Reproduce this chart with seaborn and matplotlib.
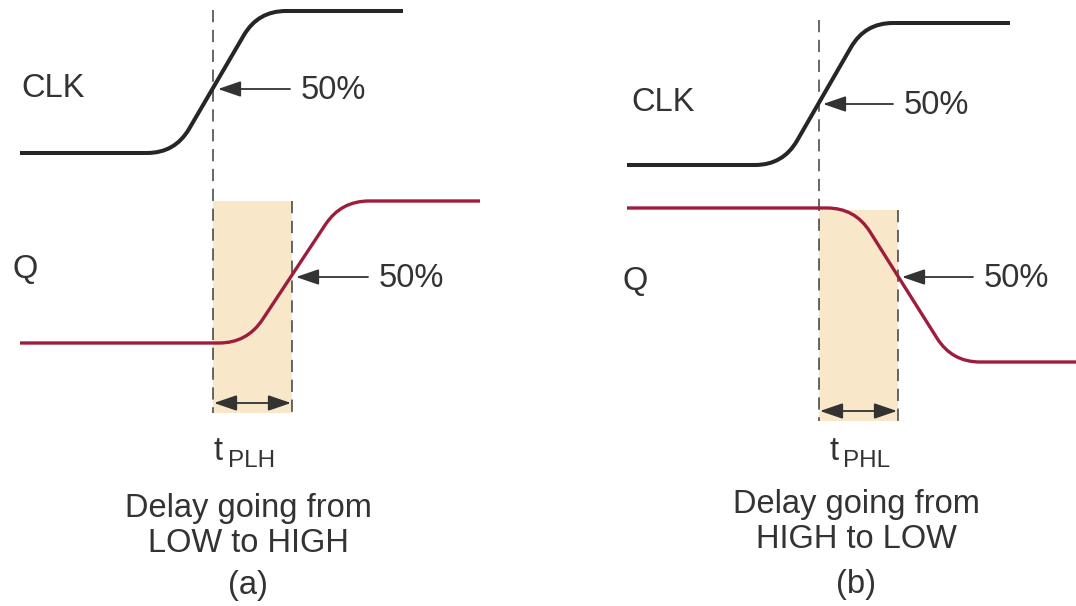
import matplotlib
matplotlib.use("Agg")
import matplotlib.pyplot as plt
import seaborn as sns
import numpy as np
from matplotlib.path import Path
from matplotlib.patches import PathPatch, Rectangle

# corner points of each waveform (pixel space of the drawing, y grows downward)
clk_a_x = [20, 175, 258, 403]
clk_a_y = [153, 153, 11, 11]
q_a_x = [20, 247, 341, 480]
q_a_y = [343, 343, 201, 201]

clk_b_x = [627, 783, 865, 1010]
clk_b_y = [165, 165, 23, 23]
q_b_x = [627, 855, 952, 1076]
q_b_y = [208, 208, 362, 362]

# delay windows: start edge, end edge, top, bottom
win_a = [213, 292, 201, 413]
win_b = [819, 898, 210, 421]
clk_dash_top = [10, 20]

# 50% markers: (tip x, tail x, y)
pct_a = [(218, 290, 89), (296, 368, 277)]
pct_b = [(823, 893, 104), (902, 973, 277)]
pct_text = "50%"

signal_names = ["CLK", "Q"]
delay_names = ["PLH", "PHL"]
captions_a = ["Delay going from", "LOW to HIGH", "(a)"]
captions_b = ["Delay going from", "HIGH to LOW", "(b)"]

BLACK = "#262626"
RED = "#9e1d3d"
SHADE = "#f8e7c8"
TXT = "#333333"

sns.set_theme(style="white")
plt.rcParams["font.family"] = ["Liberation Sans", "DejaVu Sans"]


def rounded(xs, ys, r):
    pts = np.column_stack([xs, ys]).astype(float)
    verts = [pts[0]]
    codes = [Path.MOVETO]
    for i in range(1, len(pts) - 1):
        d_in = pts[i] - pts[i - 1]
        d_out = pts[i + 1] - pts[i]
        a = pts[i] - r * d_in / np.linalg.norm(d_in)
        b = pts[i] + r * d_out / np.linalg.norm(d_out)
        verts += [a, pts[i], b]
        codes += [Path.LINETO, Path.CURVE3, Path.CURVE3]
    verts.append(pts[-1])
    codes.append(Path.LINETO)
    return Path(verts, codes)


fig = plt.figure(figsize=(10.76, 6.06), dpi=100)
ax = fig.add_axes([0, 0, 1, 1])
ax.set_xlim(0, 1076)
ax.set_ylim(606, 0)
ax.axis("off")

dash = (0, (8, 5))
head = "head_length=0.7,head_width=0.24"

for win, top in zip([win_a, win_b], clk_dash_top):
    x0, x1, y0, y1 = win
    ax.add_patch(Rectangle((x0, y0), x1 - x0, y1 - y0, color=SHADE, lw=0, zorder=0))
    ax.vlines(x0, top, y1, colors="#3d3d3d", lw=1.1, linestyles=dash, zorder=1)
    ax.vlines(x1, y0, y1, colors="#3d3d3d", lw=1.1, linestyles=dash, zorder=1)
    ay = y1 - 10
    ax.annotate("", xy=(x0 + 1, ay), xytext=(x1 - 1, ay),
                arrowprops=dict(arrowstyle="<|-|>," + head,
                                color=TXT, lw=1.3, shrinkA=0, shrinkB=0,
                                mutation_scale=20), zorder=3)

for xs, ys, col, lw in [(clk_a_x, clk_a_y, BLACK, 2.9), (q_a_x, q_a_y, RED, 2.4),
                        (clk_b_x, clk_b_y, BLACK, 2.9), (q_b_x, q_b_y, RED, 2.4)]:
    ax.add_patch(PathPatch(rounded(xs, ys, 28), fill=False, edgecolor=col, lw=lw,
                           capstyle="butt", zorder=2))

fs = 23.5
for tip, tail, y in pct_a + pct_b:
    ax.annotate("", xy=(tip, y), xytext=(tail, y),
                arrowprops=dict(arrowstyle="-|>," + head,
                                color=TXT, lw=1.3, shrinkA=0, shrinkB=0,
                                mutation_scale=20), zorder=3)
    ax.text(tail + 11, y + 10, pct_text, fontsize=fs, color=TXT, va="baseline")

ax.text(21, 97, signal_names[0], fontsize=fs, color=TXT, va="baseline")
ax.text(12, 278, signal_names[1], fontsize=fs, color=TXT, va="baseline")
ax.text(631, 111, signal_names[0], fontsize=fs, color=TXT, va="baseline")
ax.text(622, 290, signal_names[1], fontsize=fs, color=TXT, va="baseline")

for tx, name in zip([214, 829], delay_names):
    ax.text(tx, 460, "t", fontsize=fs, color=TXT, va="baseline")
    ax.text(tx + 14, 467, name, fontsize=17.5, color=TXT, va="baseline")

for cx, caps, bases in [(248, captions_a, [517, 552, 594]),
                        (856, captions_b, [513, 548, 593])]:
    for s, yb in zip(caps, bases):
        ax.text(cx, yb, s, fontsize=fs, color=TXT, ha="center", va="baseline")

fig.savefig("out.png", dpi=100)
